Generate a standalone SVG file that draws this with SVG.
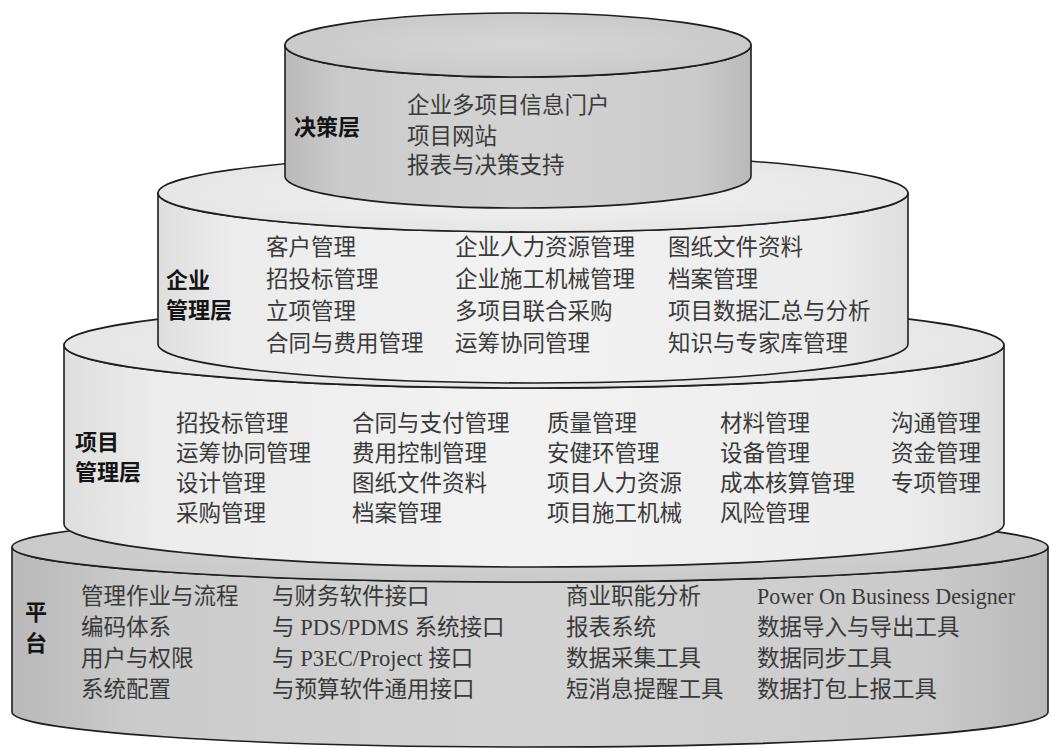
<svg xmlns="http://www.w3.org/2000/svg" width="1059" height="749" viewBox="0 0 1059 749">
<defs>
<linearGradient id="gDark" x1="0" y1="0" x2="1" y2="0">
<stop offset="0" stop-color="#b9b9b9"/>
<stop offset="0.12" stop-color="#cbcbcb"/>
<stop offset="0.5" stop-color="#d3d3d3"/>
<stop offset="0.88" stop-color="#cbcbcb"/>
<stop offset="1" stop-color="#b9b9b9"/>
</linearGradient>
<linearGradient id="gLight" x1="0" y1="0" x2="1" y2="0">
<stop offset="0" stop-color="#dedede"/>
<stop offset="0.1" stop-color="#ececec"/>
<stop offset="0.5" stop-color="#f2f2f2"/>
<stop offset="0.9" stop-color="#ececec"/>
<stop offset="1" stop-color="#dedede"/>
</linearGradient>
<radialGradient id="tDark" cx="0.5" cy="0.5" r="0.5">
<stop offset="0" stop-color="#d6d6d6"/>
<stop offset="1" stop-color="#cacaca"/>
</radialGradient>
<radialGradient id="tLight" cx="0.5" cy="0.5" r="0.5">
<stop offset="0" stop-color="#f3f3f3"/>
<stop offset="1" stop-color="#e6e6e6"/>
</radialGradient>
</defs>
<style>
.edge{stroke:#1e1e1e;stroke-width:1.6;stroke-linejoin:round}
.dark{fill:url(#gDark)}
.light{fill:url(#gLight)}
.tdark{fill:url(#tDark)}
.tlight{fill:url(#tLight)}
.item{font-family:"Noto Sans CJK SC",sans-serif;font-size:22.5px;fill:#3a3a3a}
.mix{font-family:"Liberation Serif","Noto Sans CJK SC",serif;font-size:22.5px;fill:#3a3a3a}
.lbl{font-family:"Noto Sans CJK SC",sans-serif;font-size:22px;font-weight:bold;fill:#151515}
</style>
<rect width="1059" height="749" fill="#ffffff"/>

<g id="platform">
<path class="edge dark" d="M12,547 L12,712 A518,35 0 0 0 1048,712 L1048,547 A518,35 0 0 1 12,547 Z"/>
<ellipse class="edge tdark" cx="530" cy="547" rx="518" ry="35"/>
<text class="lbl" x="25" y="620">平</text>
<text class="lbl" x="25" y="651">台</text>
<text class="item" x="81" y="604">管理作业与流程</text>
<text class="item" x="81" y="635">编码体系</text>
<text class="item" x="81" y="666">用户与权限</text>
<text class="item" x="81" y="697">系统配置</text>
<text class="mix" x="272" y="604">与财务软件接口</text>
<text class="mix" x="272" y="635">与 PDS/PDMS 系统接口</text>
<text class="mix" x="272" y="666">与 P3EC/Project 接口</text>
<text class="mix" x="272" y="697">与预算软件通用接口</text>
<text class="item" x="566" y="604">商业职能分析</text>
<text class="item" x="566" y="635">报表系统</text>
<text class="item" x="566" y="666">数据采集工具</text>
<text class="item" x="566" y="697">短消息提醒工具</text>
<text class="mix" x="757" y="604" textLength="258" lengthAdjust="spacingAndGlyphs">Power On Business Designer</text>
<text class="item" x="757" y="635">数据导入与导出工具</text>
<text class="item" x="757" y="666">数据同步工具</text>
<text class="item" x="757" y="697">数据打包上报工具</text>
</g>

<g id="project-layer">
<path class="edge light" d="M64,345 L64,524 A470,43 0 0 0 1004,524 L1004,345 A470,43 0 0 1 64,345 Z"/>
<ellipse class="edge tlight" cx="534" cy="345" rx="470" ry="43"/>
<text class="lbl" x="75" y="450">项目</text>
<text class="lbl" x="75" y="480">管理层</text>
<text class="item" x="176" y="431">招投标管理</text>
<text class="item" x="176" y="461">运筹协同管理</text>
<text class="item" x="176" y="491">设计管理</text>
<text class="item" x="176" y="521">采购管理</text>
<text class="item" x="352" y="431">合同与支付管理</text>
<text class="item" x="352" y="461">费用控制管理</text>
<text class="item" x="352" y="491">图纸文件资料</text>
<text class="item" x="352" y="521">档案管理</text>
<text class="item" x="547" y="431">质量管理</text>
<text class="item" x="547" y="461">安健环管理</text>
<text class="item" x="547" y="491">项目人力资源</text>
<text class="item" x="547" y="521">项目施工机械</text>
<text class="item" x="720" y="431">材料管理</text>
<text class="item" x="720" y="461">设备管理</text>
<text class="item" x="720" y="491">成本核算管理</text>
<text class="item" x="720" y="521">风险管理</text>
<text class="item" x="891" y="431">沟通管理</text>
<text class="item" x="891" y="461">资金管理</text>
<text class="item" x="891" y="491">专项管理</text>
</g>

<g id="enterprise-layer">
<path class="edge light" d="M158,193 L158,344 A375,39 0 0 0 908,344 L908,193 A375,39 0 0 1 158,193 Z"/>
<ellipse class="edge tlight" cx="533" cy="193" rx="375" ry="39"/>
<text class="lbl" x="166" y="288">企业</text>
<text class="lbl" x="166" y="318">管理层</text>
<text class="item" x="266" y="255">客户管理</text>
<text class="item" x="266" y="287">招投标管理</text>
<text class="item" x="266" y="319">立项管理</text>
<text class="item" x="266" y="351">合同与费用管理</text>
<text class="item" x="455" y="255">企业人力资源管理</text>
<text class="item" x="455" y="287">企业施工机械管理</text>
<text class="item" x="455" y="319">多项目联合采购</text>
<text class="item" x="455" y="351">运筹协同管理</text>
<text class="item" x="668" y="255">图纸文件资料</text>
<text class="item" x="668" y="287">档案管理</text>
<text class="item" x="668" y="319">项目数据汇总与分析</text>
<text class="item" x="668" y="351">知识与专家库管理</text>
</g>

<g id="decision-layer">
<path class="edge dark" d="M285,45 L285,176 A233,32 0 0 0 751,176 L751,45 A233,32 0 0 1 285,45 Z"/>
<ellipse class="edge tdark" cx="518" cy="45" rx="233" ry="32"/>
<text class="lbl" x="294" y="135">决策层</text>
<text class="item" x="407" y="113">企业多项目信息门户</text>
<text class="item" x="407" y="144">项目网站</text>
<text class="item" x="407" y="173">报表与决策支持</text>
</g>

<g id="connectors"/>
</svg>
